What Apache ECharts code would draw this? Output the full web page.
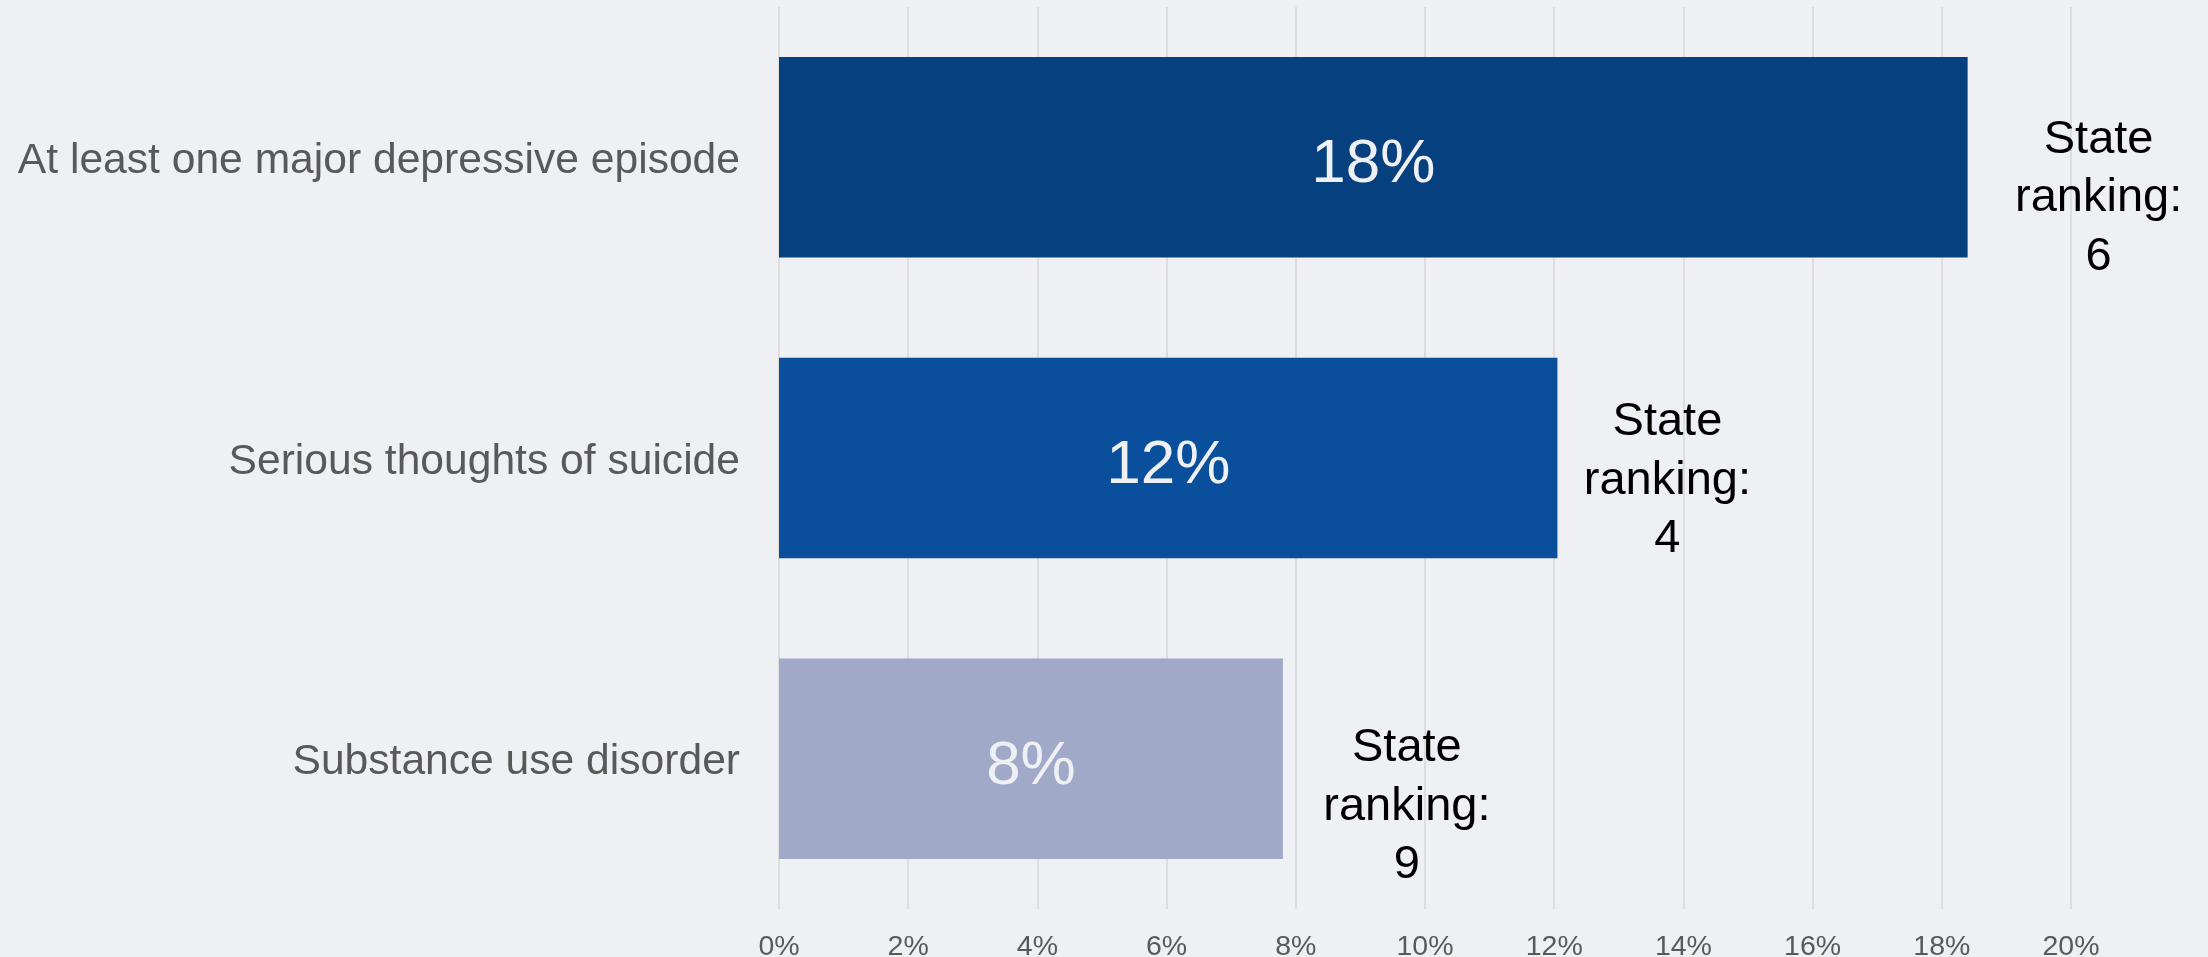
<!DOCTYPE html>
<html>
<head>
<meta charset="utf-8">
<script src="https://cdn.jsdelivr.net/npm/echarts@6/dist/echarts.min.js"></script>
<style>
html,body{margin:0;padding:0;background:#EFF0F4;}
#chart{width:2208px;height:957px;}
</style>
</head>
<body>
<div id="chart"></div>
<script>
const categories = ['At least one major depressive episode', 'Serious thoughts of suicide', 'Substance use disorder'];
const values = [18.4, 12.05, 7.8];
const rankings = [6, 4, 9];
const barColors = ['#06407E', '#094F9C', '#A0AAC8'];
const rankLabelOffsets = [[131, 41], [110, 23], [124, 48]];

const FONT = '"Liberation Sans", Arial, sans-serif';
const chart = echarts.init(document.getElementById('chart'), null, {renderer: 'canvas'});

const option = {
  backgroundColor: '#EFF0F4',
  animation: false,
  grid: {left: 779, right: 137, top: 7, bottom: 48, containLabel: false, outerBoundsMode: 'none'},
  xAxis: {
    type: 'value',
    min: 0, max: 20, interval: 2,
    axisLine: {show: false},
    axisTick: {show: false},
    splitLine: {show: true, lineStyle: {color: '#D9D9D9', width: 1.5}},
    axisLabel: {formatter: '{value}%', color: '#595959', fontSize: 28.5, fontFamily: FONT, margin: 24}
  },
  yAxis: {
    type: 'category',
    data: categories,
    inverse: true,
    axisLine: {show: false},
    axisTick: {show: false},
    axisLabel: {
      margin: 39,
      formatter: v => '{s| }\n{a|' + v + '}',
      rich: {
        s: {fontSize: 1, lineHeight: 8},
        a: {color: '#595959', fontSize: 42.6, fontFamily: FONT, lineHeight: 50}
      }
    }
  },
  series: [
    {
      type: 'bar',
      barCategoryGap: '33.3%',
      data: values.map((v, i) => ({value: v, itemStyle: {color: barColors[i]}})),
      label: {
        show: true,
        position: 'inside',
        offset: [0, 8],
        formatter: p => Math.round(p.value) + '%',
        color: '#EEF0F4',
        fontSize: 62,
        fontFamily: FONT
      },
      z: 2
    },
    {
      type: 'bar',
      barGap: '-100%',
      barCategoryGap: '33.3%',
      data: values.map((v, i) => ({
        value: v,
        label: {offset: rankLabelOffsets[i]}
      })),
      itemStyle: {color: 'rgba(0,0,0,0)'},
      label: {
        show: true,
        position: 'right',
        distance: 0,
        align: 'center',
        formatter: p => 'State\nranking:\n' + rankings[p.dataIndex],
        color: '#000000',
        fontSize: 47,
        lineHeight: 58.5,
        fontFamily: FONT
      },
      silent: true,
      z: 3
    }
  ]
};
chart.setOption(option);
</script>
</body>
</html>
